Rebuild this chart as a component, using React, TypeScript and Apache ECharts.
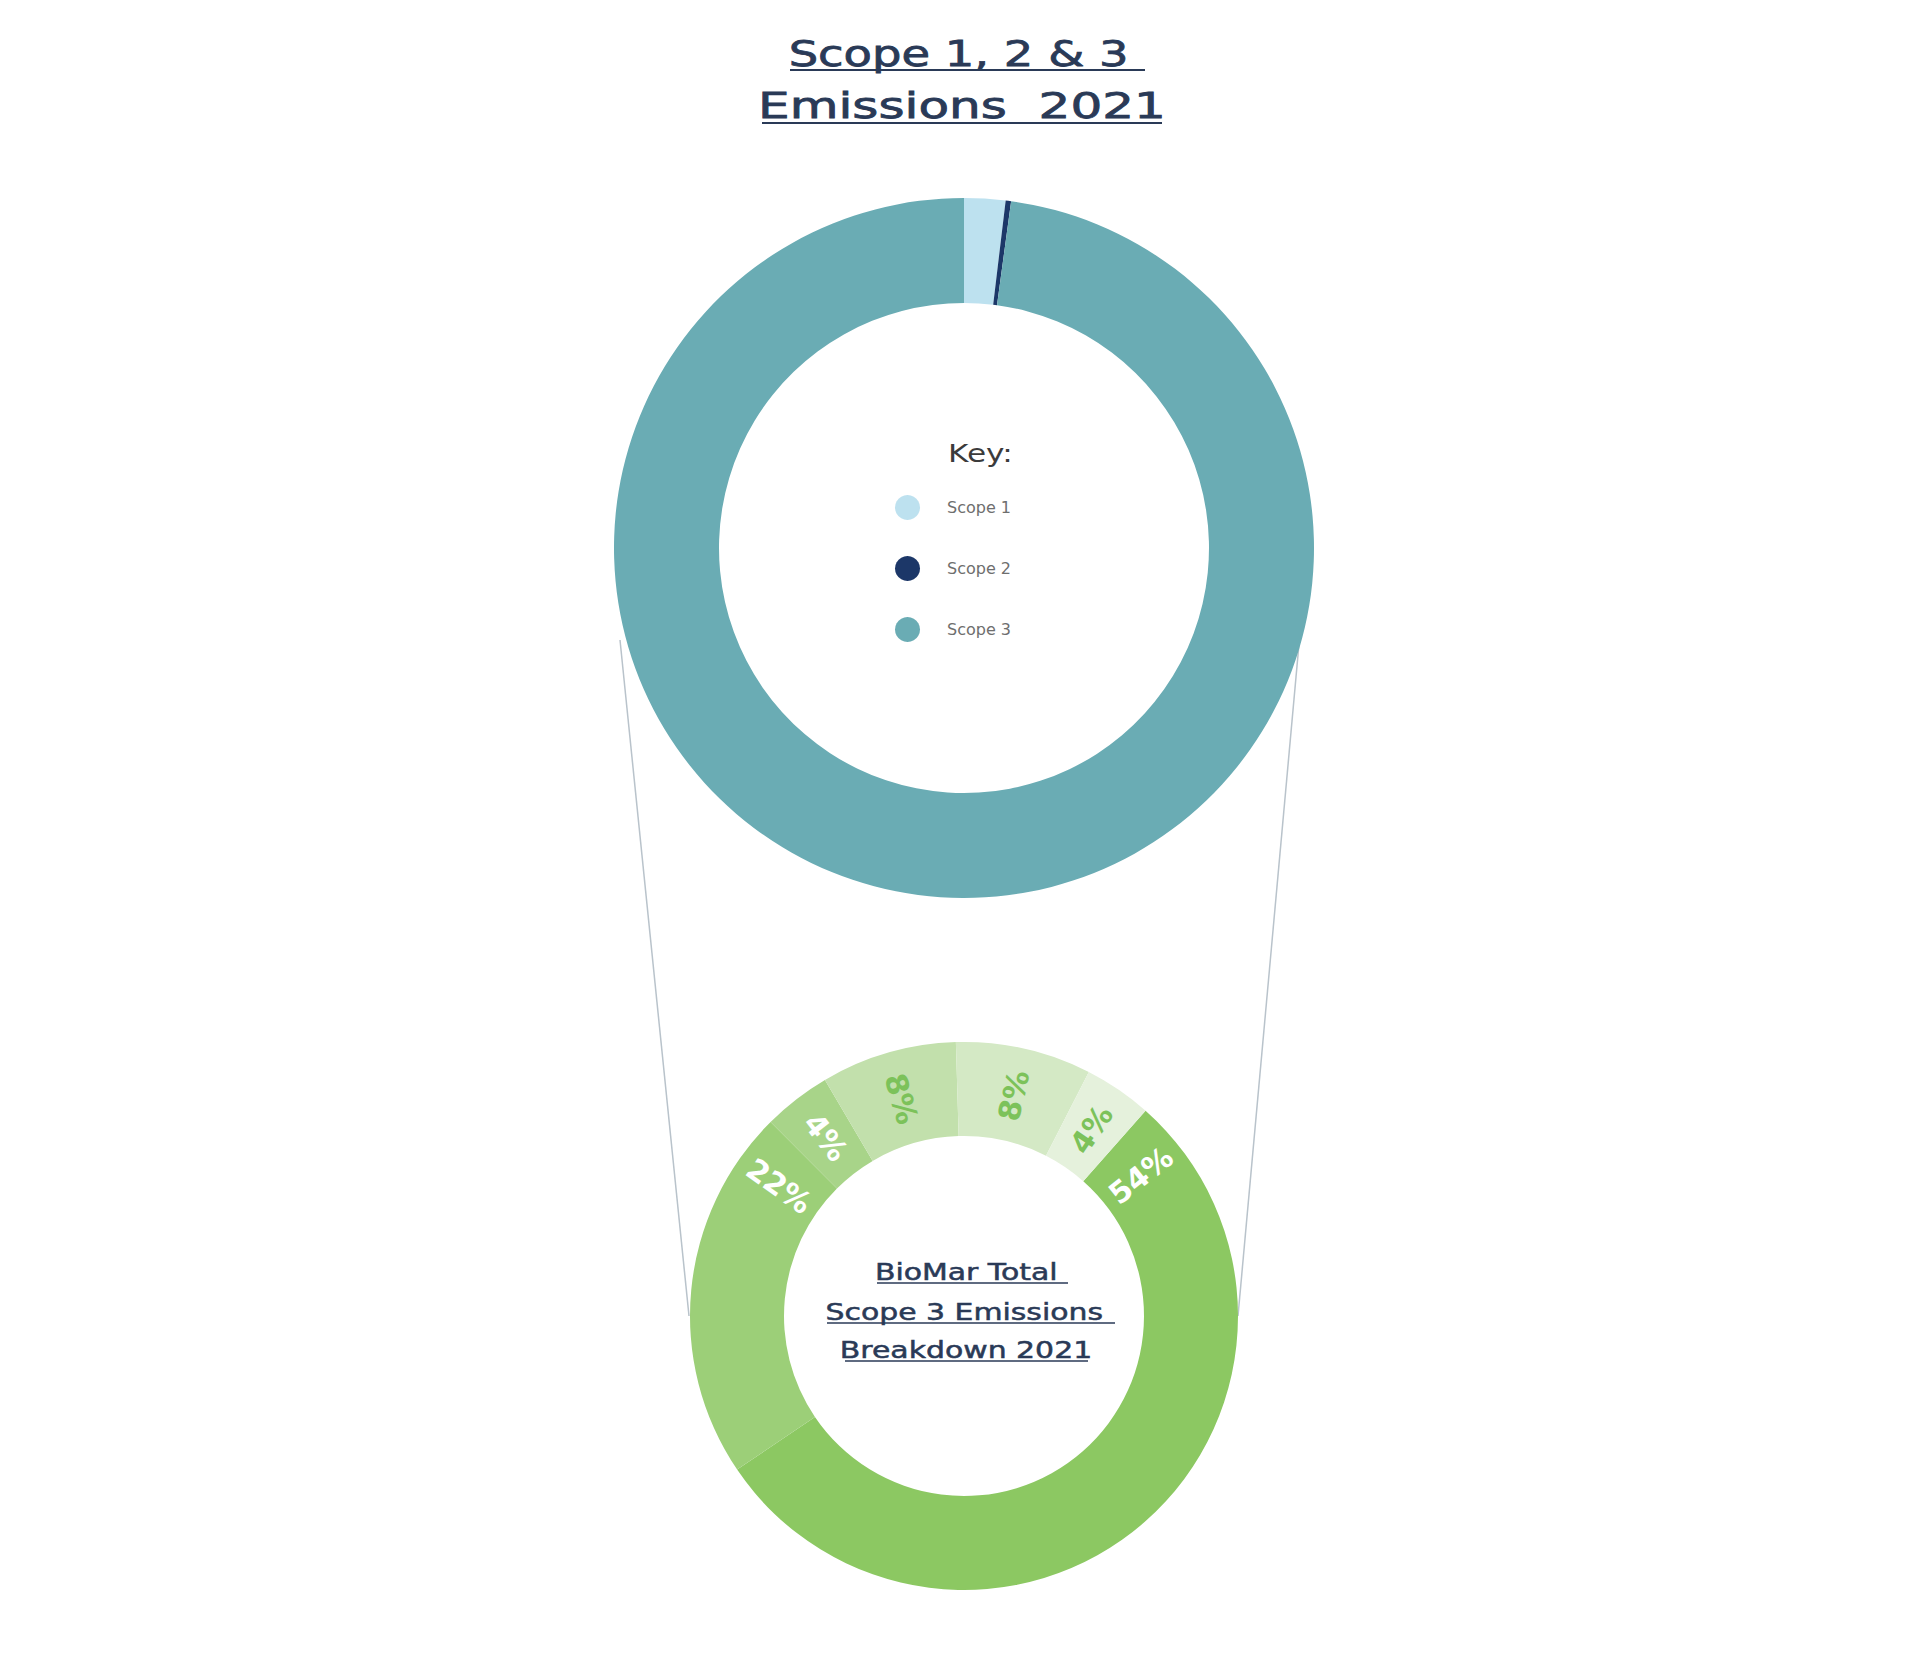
import React, { useRef, useEffect } from "react";
import * as echarts from "echarts";

// data
const scopeNames = ["Scope 1", "Scope 2", "Scope 3"];
const scopeShares = [1.9, 0.25, 97.85];
const breakdownNames = ["Category 1", "Category 2", "Category 3", "Category 4", "Category 5", "Category 6"];
const breakdownShares = [54, 22, 4, 8, 8, 4];
const titleLines = ["Scope 1, 2 & 3 ", "Emissions  2021"];
const centerLines = ["BioMar Total ", "Scope 3 Emissions ", "Breakdown 2021"];
const keyTitle = "Key:";

// styles
const scopeColors = ["#bde1ef", "#1c3768", "#6aacb4"];
const breakdownColors = ["#8cc862", "#9ccf78", "#a8d489", "#c2e0ac", "#d4e9c5", "#e5f1dc"];
const breakdownLabelColors = ["#ffffff", "#ffffff", "#ffffff", "#7cc25a", "#7cc25a", "#7cc25a"];
const navy = "#2a3a57";
const font = "DejaVu Sans";

const TOP = { cx: 964, cy: 548, r0: 245, r1: 350 };
const BOT = { cx: 964, cy: 1316, r0: 180, r1: 274 };
const BOT_START = 41.5; // degrees clockwise from 12 o'clock
const LABEL_R = 226;
const LABEL_INSET = 10;

// label angle: middle of small slices, near the top end of big ones
const labelAngles = (() => {
  const total = breakdownShares.reduce((a, b) => a + b, 0);
  const dist = (a: number) => {
    const m = ((a % 360) + 360) % 360;
    return Math.min(m, 360 - m);
  };
  let acc = BOT_START;
  return breakdownShares.map((v) => {
    const a0 = acc;
    const a1 = acc + (v / total) * 360;
    acc = a1;
    if (a1 - a0 < 40) return (a0 + a1) / 2;
    return dist(a0) <= dist(a1) ? a0 + LABEL_INSET : a1 - LABEL_INSET;
  });
})();

const textEl = (
  text: string,
  x: number,
  y: number,
  size: number,
  fill: string,
  align = "center",
  scaleX = 1.3,
  weight = 0
) => ({
  type: "text",
  x,
  y,
  scaleX,
  z: 10,
  style: {
    text,
    x: 0,
    y: 0,
    fill,
    stroke: weight ? fill : undefined,
    lineWidth: weight,
    font: `${size}px "${font}"`,
    fontSize: size,
    fontFamily: font,
    textAlign: align,
    align,
    textVerticalAlign: "middle",
    verticalAlign: "middle",
  },
});

const lineEl = (x1: number, y1: number, x2: number, y2: number, stroke: string, lineWidth: number, z = 10) => ({
  type: "line",
  z,
  shape: { x1, y1, x2, y2 },
  style: { stroke, lineWidth },
});

const App = function () {
  const chart = useRef<HTMLDivElement>(null);
  useEffect(() => {
    document.body.style.margin = "0";
    if (!chart.current) return;
    const myChart = echarts.init(chart.current, undefined, { renderer: "svg" });
    const option = {
      animation: false,
      backgroundColor: "#ffffff",
      legend: {
        data: scopeNames,
        orient: "vertical",
        left: 890,
        top: 490,
        icon: "circle",
        itemWidth: 25,
        itemHeight: 25,
        itemGap: 36,
        selectedMode: false,
        textStyle: {
          fontSize: 16,
          color: "#6e6e6e",
          fontFamily: font,
          padding: [0, 0, 0, 22],
        },
      },
      graphic: {
        elements: [
          lineEl(620, 640, 689, 1316, "#b9c3cb", 1.5, 0),
          lineEl(1300, 633, 1238, 1316, "#b9c3cb", 1.5, 0),
          textEl(titleLines[0], 966, 53, 36, navy, "center", 1.29, 0.8),
          textEl(titleLines[1], 962, 106, 36, navy, "center", 1.39, 0.8),
          lineEl(790, 70, 1145, 70, navy, 2),
          lineEl(762, 123, 1162, 123, navy, 2),
          textEl(keyTitle, 948, 454, 24, "#3b3b3b", "left", 1.3),
          textEl(centerLines[0], 971, 1272, 23, navy, "center", 1.3, 0.5),
          textEl(centerLines[1], 969, 1312, 23, navy, "center", 1.3, 0.5),
          textEl(centerLines[2], 966, 1350, 23, navy, "center", 1.3, 0.5),
          lineEl(877, 1283, 1068, 1283, navy, 1.5),
          lineEl(827, 1323, 1115, 1323, navy, 1.5),
          lineEl(845, 1361, 1088, 1361, navy, 1.5),
        ],
      },
      series: [
        {
          name: "Scopes",
          type: "pie",
          silent: true,
          center: [TOP.cx, TOP.cy],
          radius: [TOP.r0, TOP.r1],
          startAngle: 90,
          clockwise: true,
          label: { show: false },
          labelLine: { show: false },
          emphasis: { disabled: true },
          data: scopeNames.map((n, i) => ({
            name: n,
            value: scopeShares[i],
            itemStyle: { color: scopeColors[i] },
          })),
        },
        {
          name: "Scope 3 breakdown",
          type: "pie",
          silent: true,
          center: [BOT.cx, BOT.cy],
          radius: [BOT.r0, BOT.r1],
          startAngle: 90 - BOT_START,
          clockwise: true,
          avoidLabelOverlap: false,
          emphasis: { disabled: true },
          label: {
            show: true,
            position: "inside",
            formatter: "{c}%",
            fontSize: 30,
            fontWeight: "bold",
            fontFamily: font,
            rotate: 0,
          },
          labelLine: { show: false },
          labelLayout: (params: any) => {
            const t = ((labelAngles[params.dataIndex] % 360) + 360) % 360;
            const rad = (t * Math.PI) / 180;
            return {
              x: BOT.cx + LABEL_R * Math.sin(rad),
              y: BOT.cy - LABEL_R * Math.cos(rad),
              rotate: t < 180 ? 90 - t : 270 - t,
              align: "center",
              verticalAlign: "middle",
            };
          },
          data: breakdownNames.map((n, i) => ({
            name: n,
            value: breakdownShares[i],
            itemStyle: { color: breakdownColors[i] },
            label: { color: breakdownLabelColors[i] },
          })),
        },
      ],
    };
    myChart.setOption(option as any);
    return () => {
      myChart.dispose();
    };
  }, []);
  return <div ref={chart} style={{ width: 1916, height: 1650 }}></div>;
};

export default App;
